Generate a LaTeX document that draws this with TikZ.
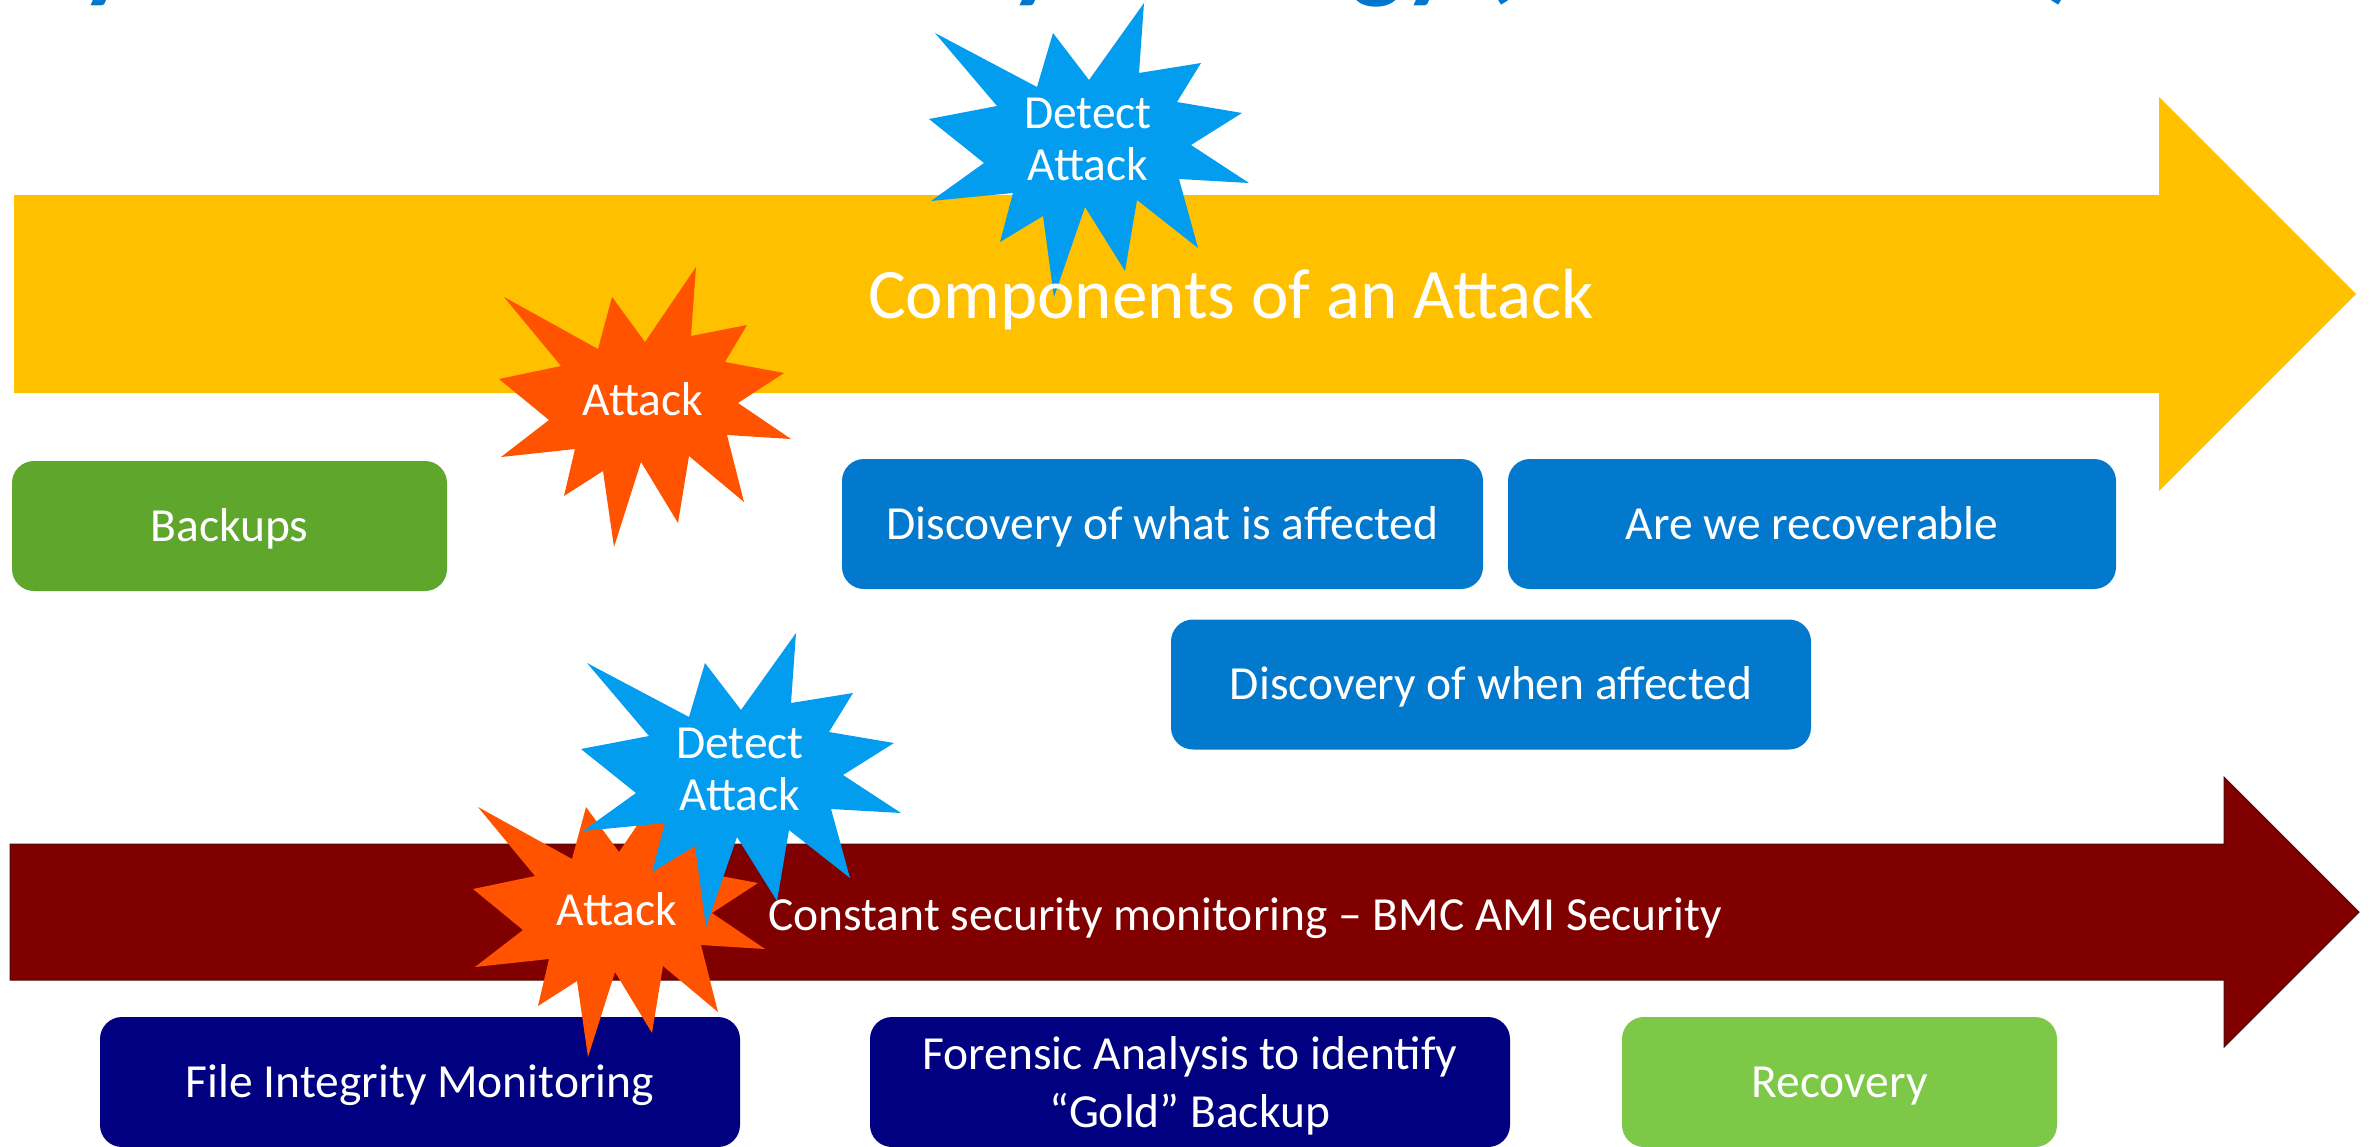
\documentclass[tikz,border=0pt]{standalone}
\usepackage{fontspec}
\setmainfont{Carlito}
\definecolor{yellowA}{RGB}{255,192,0}
\definecolor{blueS}{RGB}{3,157,240}
\definecolor{orangeS}{RGB}{255,83,0}
\definecolor{greenB}{RGB}{95,166,45}
\definecolor{blueBox}{RGB}{2,121,204}
\definecolor{navyBox}{RGB}{0,0,128}
\definecolor{darkRed}{RGB}{128,0,0}
\definecolor{greenR}{RGB}{125,200,70}
\definecolor{titleBlue}{RGB}{0,119,204}
\begin{document}
\begin{tikzpicture}[x=1pt,y=-1pt,
  boxbase/.style={rounded corners=22pt, inner sep=0pt, text=white,
    font=\fontsize{47.5}{58}\selectfont, text height=30.6pt, text depth=0pt,
    minimum height=130pt},
  lbl/.style={text=white, font=\fontsize{47.5}{58}\selectfont, inner sep=0pt},
  frag/.style={text=titleBlue, font=\bfseries\fontsize{110}{120}\selectfont, inner sep=0pt, anchor=base west},
  attackstar/.pic={\fill[orangeS] (504,297) -- (598,349) -- (612,297) -- (645,342) -- (696,267) -- (691,336) -- (747,325) -- (725,362) -- (784,373) -- (738,403) -- (791,439) -- (727,435) -- (744,502) -- (689,456) -- (678,523) -- (641,462) -- (614,547) -- (603,471) -- (564,496) -- (575,449) -- (501,457) -- (549,420) -- (499,379) -- (561,366) -- cycle;},
  detectstar/.pic={\fill[blueS] (935,33) -- (1037,87) -- (1053,33) -- (1089,80) -- (1144,3) -- (1139,73) -- (1201,63) -- (1177,102) -- (1242,113) -- (1191,145) -- (1249,183) -- (1179,179) -- (1198,248) -- (1137,200) -- (1125,271) -- (1085,207) -- (1054,297) -- (1043,216) -- (1000,242) -- (1013,193) -- (931,201) -- (984,163) -- (929,119) -- (997,106) -- cycle;}
]
\useasboundingbox (0,0) rectangle (2371,1146);
\clip (0,0) rectangle (2371,1146);
\fill[white] (0,0) rectangle (2371,1146);

% title fragments (cut off at top)
\node[frag] (f1) at (80,-12) {y};
\node[frag] (f2) at (1009,-12) {y};
\node[frag] (f3) at (1351,-12) {gy (};
\node[frag] (f4) at (2045,-12) {)};

% yellow arrow
\fill[yellowA] (14,195) -- (2159,195) -- (2159,97) -- (2356,294) -- (2159,491) -- (2159,393) -- (14,393) -- cycle;
\pic at (0,0) {attackstar};
\pic at (0,0) {detectstar};
\node[lbl, anchor=base, font=\fontsize{71}{86}\selectfont] (comp) at (1231,318) {Components of an Attack};
\node[lbl, anchor=base] (atk1) at (643,415) {Attack};
\node[lbl, anchor=base, align=center, font=\fontsize{47.5}{52}\selectfont] (det1) at (1088,180) {Detect\\Attack};

% top boxes
\node[boxbase, fill=greenB, minimum width=435pt] (backups) at (229.5,526) {Backups};
\node[boxbase, fill=blueBox, minimum width=641pt] (dwhat) at (1162.5,524) {Discovery of what is affected};
\node[boxbase, fill=blueBox, minimum width=608pt] (arewe) at (1812,524) {Are we recoverable};
\node[boxbase, fill=blueBox, minimum width=640pt] (dwhen) at (1491,684.5) {Discovery of when affected};

% dark red arrow
\fill[darkRed, draw={rgb,255:red,80;green,10;blue,10}, line width=1pt] (10,844) -- (2224,844) -- (2224,777) -- (2359,912) -- (2224,1047) -- (2224,980) -- (10,980) -- cycle;

% bottom boxes
\node[boxbase, fill=navyBox, minimum width=640pt] (fim) at (420,1082) {File Integrity Monitoring};
\node[boxbase, fill=navyBox, minimum width=640pt] (forensic) at (1190,1082) {};
\node[lbl, anchor=base, align=center] (forensict) at (1190,1127) {Forensic Analysis to identify\\“Gold” Backup};
\node[boxbase, fill=greenR, minimum width=435pt] (recovery) at (1839.5,1082) {Recovery};

\pic at (-26,510) {attackstar};
\node[lbl, anchor=base] (atk2) at (617,925) {Attack};
\pic at (-348,630) {detectstar};
\node[lbl, anchor=base, align=center, font=\fontsize{47.5}{52}\selectfont] (det2) at (740,810) {Detect\\Attack};

\node[lbl, anchor=base] (constant) at (1245,930) {Constant security monitoring – BMC AMI Security};
\end{tikzpicture}
\end{document}
